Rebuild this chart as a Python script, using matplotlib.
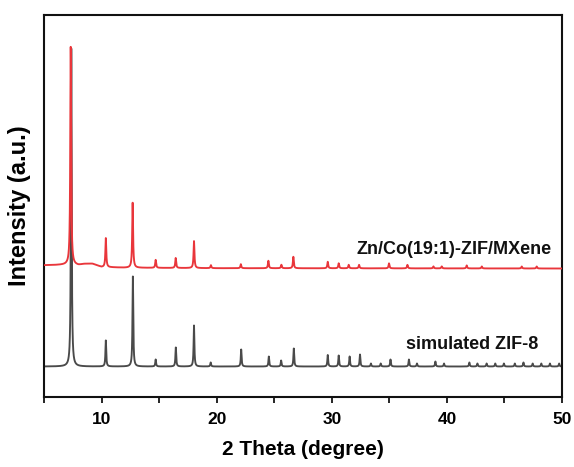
import numpy as np
import matplotlib
matplotlib.use("Agg")
import matplotlib.pyplot as plt
from matplotlib.ticker import MultipleLocator

plt.rcParams['font.family'] = ['Liberation Sans', 'DejaVu Sans']

# ---- data (arbitrary intensity units) ----
# simulated ZIF-8 (black): peak positions (2theta) and heights
sim_pos = [7.37, 10.37, 12.72, 14.70, 16.45, 18.03, 19.48, 22.13, 24.53, 25.60,
           26.70, 29.65, 30.60, 31.55, 32.45, 33.40, 34.25, 35.10, 36.70, 37.40,
           39.00, 39.75, 41.95, 42.65, 43.45, 44.20, 44.95, 45.90, 46.65, 47.45,
           48.20, 48.95, 49.75]
sim_h = [318, 26, 90, 7, 19, 41, 4, 17, 10, 6,
         18, 11.5, 11, 10, 12, 3, 3, 7, 7, 3,
         5, 3, 4, 3, 3, 3, 3, 3, 4, 3,
         3, 3, 3]
sim_base = 30.5

# Zn/Co(19:1)-ZIF/MXene (red): peak positions and heights
exp_pos = [7.32, 10.37, 12.70, 14.70, 16.44, 18.03, 19.50, 22.10, 24.49, 25.62,
           26.66, 29.65, 30.60, 31.47, 32.37, 34.97, 36.57, 38.83, 39.55, 41.72,
           43.03, 46.50, 47.80]
exp_h = [218, 29, 65, 8, 10, 27, 3, 4, 7.5, 3.5,
         11.5, 6.5, 5, 3.5, 3.5, 5, 3.5, 2, 2, 3,
         2, 2, 2]
# red background (2theta, intensity)
exp_bg_x = [5.0, 6.0, 7.0, 8.0, 8.5, 9.2, 10.0, 12.0, 20.0, 30.0, 40.0, 50.0]
exp_bg_y = [131.8, 132.0, 132.3, 131.8, 133.0, 133.3, 130.0, 129.3, 128.8, 128.7, 128.6, 128.5]

x_ticks = [10, 20, 30, 40, 50]

# ---- profiles built from the read peak lists ----
tt = np.linspace(5, 50, 9001)

def profile(pos, h, gamma):
    y = np.zeros_like(tt)
    for p, a in zip(pos, h):
        y += a / (1 + ((tt - p) / gamma) ** 2)
    return y

sim_y = sim_base + profile(sim_pos, sim_h, 0.04)
exp_y = np.interp(tt, exp_bg_x, exp_bg_y) + profile(exp_pos, exp_h, 0.045)

fig = plt.figure(figsize=(5.74, 4.67), dpi=100)
ax = fig.add_axes([44/574, 1-397/467, (562-44)/574, (397-15)/467])

ax.plot(tt, sim_y, color='#4a4a4a', lw=1.35, zorder=2)
ax.plot(tt, exp_y, color='#e9363b', lw=1.35, zorder=3)

ax.set_xlim(5, 50)
ax.set_ylim(0, 382)
ax.set_xticks(x_ticks)
ax.xaxis.set_minor_locator(MultipleLocator(5))
ax.set_yticks([])
ax.tick_params(axis='x', which='major', direction='out', length=4, width=1.2,
               labelsize=12.5, pad=7)
ax.tick_params(axis='x', which='minor', direction='out', length=4, width=1.2)
for lab in ax.get_xticklabels():
    lab.set_fontweight('bold')
for sp in ax.spines.values():
    sp.set_linewidth(1.5)
    sp.set_color('#111111')

ax.set_xlabel('2 Theta (degree)', fontsize=15, fontweight='bold', labelpad=9)
ax.set_ylabel('Intensity (a.u.)', fontsize=17, fontweight='bold', labelpad=9)

ax.text(49.13, 143, 'Zn/Co(19:1)-ZIF/MXene', ha='right', va='baseline',
        fontsize=13, fontweight='bold', color='#111111')
ax.text(47.92, 47.7, 'simulated ZIF-8', ha='right', va='baseline',
        fontsize=13, fontweight='bold', color='#111111')

fig.savefig('out.png', dpi=100)
